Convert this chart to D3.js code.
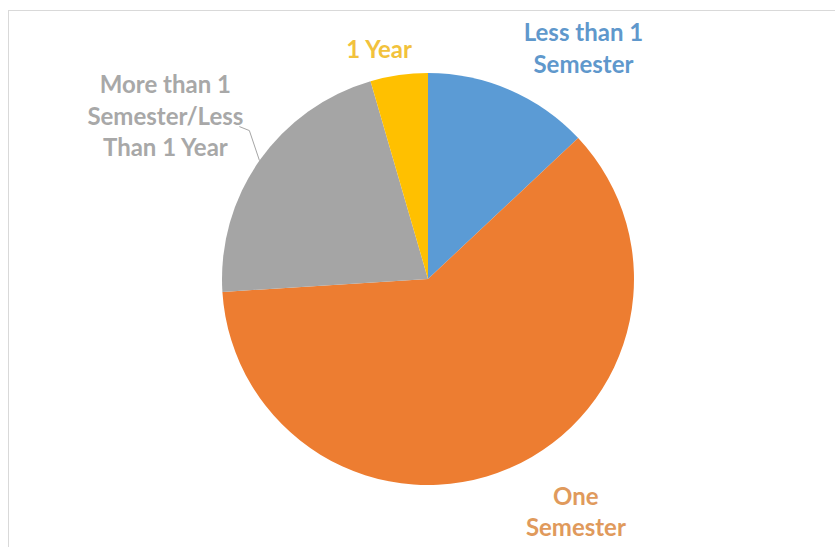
<!DOCTYPE html>
<html>
<head>
<meta charset="utf-8">
<script src="https://cdn.jsdelivr.net/npm/d3@7"></script>
<style>
  body { margin: 0; background: #fff; }
  svg { display: block; }
</style>
</head>
<body>
<div id="chart"></div>
<script>
// duration categories and their share (%)
var categories = ["Less than 1 Semester", "One Semester", "More than 1 Semester/Less Than 1 Year", "1 Year"]
var values = [13, 61, 21.5, 4.5]
// how the data labels wrap
var labelLines = [
  ["Less than 1", "Semester"],
  ["One", "Semester"],
  ["More than 1", "Semester/Less", "Than 1 Year"],
  ["1 Year"]
]
var sliceColors = ["#5b9bd5", "#ed7d31", "#a5a5a5", "#ffc000"]
var textColors = ["#5f98cc", "#e09a5c", "#a8a8a8", "#f2c23c"]

var width = 835
var height = 547
var cx = 428, cy = 279, radius = 206

// where excel dropped each label: angle nudge (deg) from slice middle, distance from centre
var labelPlace = [
  {da: 10.6, r: 278},
  {da: -9, r: 276},
  {da: -3.3, r: 309},
  {da: -3.9, r: 235}
]
var lineHeight = 31.5

var svg = d3.select("#chart").append("svg")
  .attr("width", width)
  .attr("height", height)

// chart area border (runs off the right / bottom of the crop)
svg.append("rect")
  .attr("x", 8.5)
  .attr("y", 10.5)
  .attr("width", width + 20)
  .attr("height", height + 20)
  .attr("fill", "none")
  .attr("stroke", "#d9d9d9")

var pie = d3.pie().sort(null).value(d => d)
var arcs = pie(values)
var arc = d3.arc().innerRadius(0).outerRadius(radius)

var g = svg.append("g").attr("transform", `translate(${cx},${cy})`)

g.selectAll("path.slice")
  .data(arcs)
  .join("path")
    .attr("class", "slice")
    .attr("d", arc)
    .attr("fill", (d, i) => sliceColors[i])

function polar(angle, r) {
  return [Math.sin(angle) * r, -Math.cos(angle) * r]
}

var labels = g.selectAll("text.lbl")
  .data(arcs)
  .join("text")
    .attr("class", "lbl")
    .attr("text-anchor", "middle")
    .attr("font-family", "Lato, 'Open Sans', sans-serif")
    .attr("font-weight", 700)
    .attr("font-size", 24)
    .attr("fill", (d, i) => textColors[i])
    .each(function(d, i) {
      var mid = (d.startAngle + d.endAngle) / 2 + labelPlace[i].da * Math.PI / 180
      var p = polar(mid, labelPlace[i].r)
      var lines = labelLines[i]
      var top = p[1] - (lines.length - 1) * lineHeight / 2
      d3.select(this).selectAll("tspan")
        .data(lines)
        .join("tspan")
          .attr("x", p[0])
          .attr("y", (t, j) => top + j * lineHeight)
          .attr("dy", "0.35em")
          .text(t => t)
    })

// leader line for the grey label
var grey = arcs[2]
var greyMid = (grey.startAngle + grey.endAngle) / 2
var greyText = labels.filter((d, i) => i === 2).selectAll("tspan").nodes()[1]
var bb = greyText.getBBox()
var tip = polar(greyMid, radius)
var start = [bb.x + bb.width - 4, bb.y + bb.height - 3]
g.append("path")
  .attr("d", d3.line()([start, [start[0] + 10, start[1] + 4], tip]))
  .attr("fill", "none")
  .attr("stroke", "#a5a5a5")
  .attr("stroke-width", 1)
</script>
</body>
</html>
